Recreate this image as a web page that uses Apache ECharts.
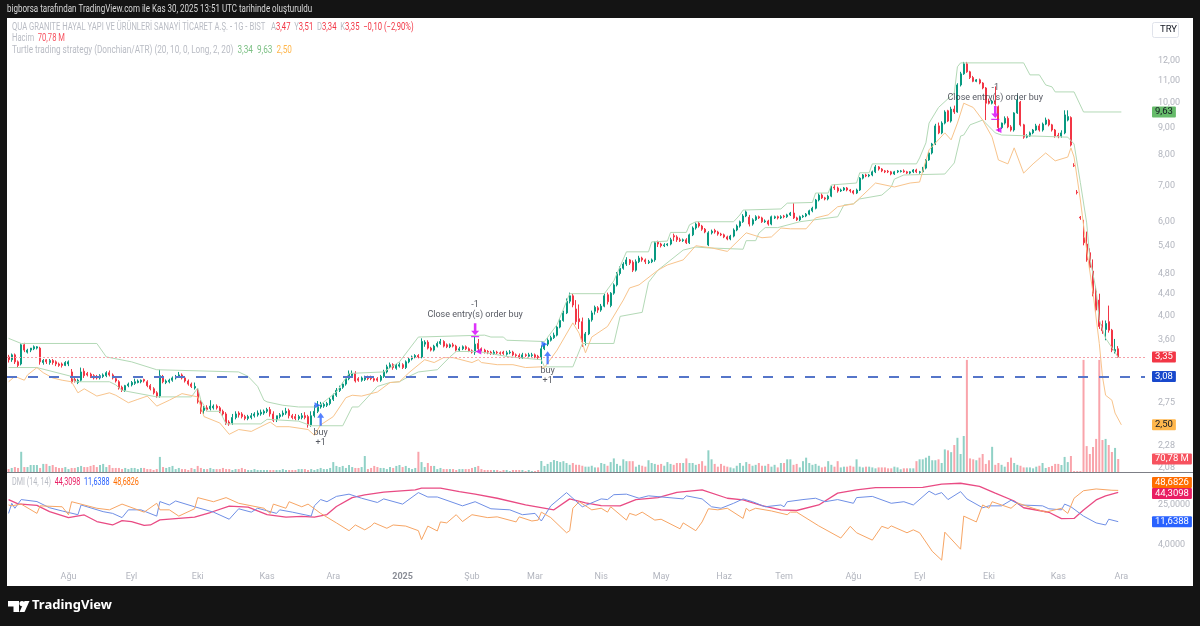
<!DOCTYPE html>
<html>
<head>
<meta charset="utf-8">
<title>QUA</title>
<style>
  html, body { margin: 0; padding: 0; background: #141414; }
  #chart { width: 1200px; height: 626px; }
</style>
<script src="https://cdn.jsdelivr.net/npm/echarts@6/dist/echarts.min.js"></script>
</head>
<body>
<div id="chart"></div>
<script>
// one row = 10 bars
const opens = [
  3.35,3.31,3.38,3.28,3.25,3.53,3.42,3.45,3.47,3.48, 3.48,3.27,3.31,3.27,3.30,3.28,3.25,3.25,3.23,3.25,
  3.14,3.04,3.00,3.03,3.15,3.12,3.11,3.09,3.08,3.06, 3.08,3.09,3.13,3.10,3.05,3.01,2.94,2.90,2.96,2.97,
  2.99,3.00,3.01,3.04,3.01,2.96,2.92,2.87,2.83,3.07, 3.00,3.01,3.03,3.06,3.08,3.10,3.06,3.02,2.98,2.93,
  2.90,2.76,2.66,2.69,2.68,2.69,2.71,2.69,2.65,2.62, 2.53,2.52,2.58,2.63,2.62,2.59,2.57,2.58,2.60,2.61,
  2.62,2.63,2.65,2.67,2.62,2.56,2.59,2.61,2.63,2.66, 2.60,2.59,2.57,2.58,2.60,2.59,2.50,2.60,2.65,2.70,
  2.71,2.72,2.74,2.79,2.84,2.90,2.94,2.98,3.05,3.09, 3.12,3.05,3.03,3.04,3.06,3.07,3.05,3.05,3.03,3.08,
  3.14,3.21,3.24,3.19,3.22,3.24,3.20,3.28,3.32,3.35, 3.37,3.35,3.54,3.57,3.48,3.45,3.51,3.55,3.58,3.53,
  3.50,3.53,3.51,3.45,3.47,3.50,3.47,3.44,3.42,3.55, 3.47,3.45,3.43,3.42,3.40,3.42,3.41,3.42,3.39,3.41,
  3.42,3.38,3.37,3.34,3.38,3.36,3.37,3.38,3.36,3.34, 3.47,3.54,3.60,3.64,3.68,3.81,3.92,4.05,4.26,4.36,
  4.12,3.95,3.90,3.58,3.70,3.93,4.08,4.14,4.10,4.17, 4.38,4.18,4.41,4.57,4.80,4.91,5.00,5.09,5.04,4.87,
  5.05,5.13,5.09,5.03,5.05,5.09,5.50,5.45,5.41,5.43, 5.45,5.65,5.62,5.55,5.53,5.55,5.48,5.67,5.84,5.96,
  5.89,5.81,5.43,5.72,5.78,5.74,5.69,5.67,5.62,5.57, 5.64,5.79,5.89,6.00,6.15,6.12,5.94,6.05,6.13,6.10,
  6.00,6.02,5.94,6.10,6.13,6.10,6.15,6.13,6.18,6.23, 6.10,6.05,6.13,6.15,6.20,6.29,6.36,6.59,6.73,6.65,
  6.62,6.70,6.97,6.94,6.85,6.88,6.94,6.88,6.85,6.79, 6.88,7.24,7.34,7.31,7.34,7.44,7.60,7.53,7.47,7.46,
  7.44,7.37,7.44,7.45,7.47,7.44,7.40,7.44,7.50,7.42, 7.44,7.56,7.83,8.07,8.39,9.07,8.80,9.18,9.68,9.26,
  9.75,9.63,10.82,11.35,11.85,11.45,11.17,10.99,11.06,10.91, 10.68,10.05,10.00,10.09,9.85,9.00,9.18,9.37,9.03,8.91,
  9.59,10.05,9.11,8.64,8.68,8.80,8.91,9.07,8.91,9.14, 9.30,9.11,8.91,8.71,8.68,8.80,9.30,9.40,7.65,6.82,
  6.12,5.60,5.45,5.25,4.85,4.45,4.28,3.85,3.77,3.90, 3.76,3.43,3.47
];
const closes = [
  3.31,3.38,3.28,3.23,3.53,3.45,3.45,3.48,3.50,3.50, 3.28,3.30,3.28,3.30,3.27,3.25,3.23,3.23,3.27,3.28,
  3.01,3.02,3.03,3.14,3.09,3.10,3.08,3.06,3.06,3.09, 3.10,3.13,3.10,3.06,3.02,2.93,2.90,2.96,2.98,3.00,
  3.01,3.02,3.03,3.02,2.96,2.92,2.87,2.83,3.09,3.01, 3.02,3.03,3.06,3.08,3.10,3.06,3.02,2.98,2.95,2.95,
  2.76,2.65,2.69,2.67,2.71,2.71,2.69,2.65,2.62,2.52, 2.51,2.58,2.62,2.61,2.59,2.57,2.59,2.60,2.62,2.63,
  2.64,2.65,2.67,2.62,2.55,2.60,2.61,2.63,2.65,2.60, 2.58,2.57,2.59,2.60,2.58,2.50,2.60,2.65,2.72,2.73,
  2.73,2.74,2.79,2.84,2.90,2.93,2.98,3.05,3.12,3.12, 3.02,3.03,3.06,3.06,3.05,3.05,3.03,3.03,3.08,3.14,
  3.21,3.24,3.20,3.23,3.24,3.20,3.28,3.32,3.35,3.37, 3.35,3.58,3.57,3.48,3.45,3.51,3.55,3.58,3.51,3.50,
  3.53,3.51,3.45,3.47,3.50,3.47,3.44,3.42,3.54,3.47, 3.45,3.42,3.42,3.40,3.42,3.41,3.40,3.40,3.41,3.42,
  3.38,3.37,3.34,3.38,3.37,3.38,3.38,3.35,3.34,3.47, 3.54,3.60,3.64,3.68,3.81,3.92,4.05,4.26,4.36,4.19,
  3.90,3.90,3.58,3.70,3.93,4.05,4.15,4.10,4.17,4.36, 4.25,4.41,4.57,4.80,4.91,5.00,5.09,5.02,4.87,5.05,
  5.13,5.09,5.05,5.05,5.09,5.48,5.45,5.41,5.43,5.45, 5.55,5.62,5.55,5.53,5.55,5.48,5.67,5.84,5.94,5.89,
  5.81,5.74,5.72,5.76,5.74,5.69,5.67,5.62,5.57,5.64, 5.79,5.89,6.00,6.15,6.26,5.94,6.05,6.13,6.10,6.00,
  6.02,5.94,6.13,6.13,6.10,6.13,6.13,6.18,6.23,6.10, 6.05,6.13,6.15,6.20,6.29,6.36,6.59,6.73,6.65,6.62,
  6.70,6.97,6.94,6.85,6.88,6.94,6.88,6.85,6.79,6.88, 7.24,7.34,7.31,7.34,7.44,7.60,7.53,7.47,7.44,7.44,
  7.37,7.44,7.47,7.47,7.44,7.40,7.44,7.50,7.44,7.44, 7.56,7.83,8.07,8.39,9.07,8.80,9.18,9.63,9.26,9.75,
  9.63,10.82,11.35,11.85,11.45,11.17,10.99,11.06,10.91,10.68, 10.00,10.00,10.09,9.97,9.00,9.18,9.37,9.03,8.91,9.59,
  10.14,9.11,8.64,8.68,8.80,8.91,9.07,8.91,9.14,9.30, 9.11,8.91,8.68,8.68,8.80,9.51,9.44,8.35,7.63,6.80,
  6.10,5.48,5.09,4.93,4.40,4.10,3.82,3.75,3.87,3.76, 3.45,3.46,3.35
];
const lows = [
  3.27,3.28,3.25,3.20,3.23,3.42,3.40,3.42,3.45,3.46, 3.24,3.24,3.25,3.24,3.24,3.22,3.21,3.20,3.22,3.22,
  2.99,3.00,2.98,3.01,3.06,3.08,3.06,3.04,3.04,3.04, 3.06,3.07,3.08,3.04,3.00,2.91,2.88,2.88,2.94,2.95,
  2.97,2.99,2.99,3.00,2.94,2.90,2.85,2.81,2.81,2.99, 2.98,2.99,3.01,3.04,3.06,3.04,3.00,2.96,2.93,2.91,
  2.74,2.62,2.62,2.65,2.66,2.67,2.67,2.63,2.60,2.50, 2.49,2.50,2.56,2.58,2.57,2.55,2.55,2.56,2.58,2.59,
  2.60,2.61,2.63,2.59,2.53,2.53,2.57,2.59,2.61,2.57, 2.56,2.55,2.55,2.56,2.56,2.47,2.48,2.58,2.63,2.68,
  2.69,2.70,2.72,2.77,2.82,2.88,2.92,2.96,3.03,3.07, 3.00,3.01,3.01,3.02,3.03,3.03,3.01,3.01,3.01,3.06,
  3.12,3.19,3.17,3.17,3.20,3.18,3.18,3.26,3.30,3.33, 3.33,3.33,3.50,3.46,3.43,3.43,3.49,3.53,3.49,3.48,
  3.48,3.49,3.43,3.43,3.45,3.45,3.42,3.40,3.38,3.44, 3.43,3.40,3.39,3.38,3.38,3.39,3.38,3.38,3.37,3.39,
  3.36,3.35,3.32,3.32,3.35,3.35,3.35,3.33,3.31,3.25, 3.45,3.51,3.58,3.62,3.66,3.79,3.90,4.03,4.22,4.15,
  3.85,3.78,3.50,3.52,3.68,3.90,4.02,4.05,4.07,4.15, 4.20,4.15,4.38,4.54,4.76,4.88,4.96,4.98,4.83,4.84,
  5.02,5.05,5.00,5.00,5.02,5.05,5.38,5.37,5.38,5.40, 5.42,5.52,5.50,5.50,5.50,5.45,5.45,5.64,5.80,5.85,
  5.77,5.71,5.40,5.68,5.70,5.65,5.64,5.59,5.54,5.54, 5.61,5.76,5.85,5.97,6.12,5.88,5.90,6.02,6.07,5.97,
  5.97,5.90,5.91,6.07,6.06,6.07,6.09,6.10,6.15,6.07, 6.02,6.02,6.10,6.12,6.17,6.25,6.33,6.55,6.62,6.58,
  6.58,6.67,6.88,6.80,6.82,6.85,6.84,6.80,6.75,6.76, 6.85,7.20,7.27,7.27,7.30,7.40,7.48,7.43,7.40,7.40,
  7.33,7.34,7.40,7.42,7.41,7.37,7.36,7.40,7.40,7.38, 7.41,7.52,7.80,8.02,8.35,8.75,8.75,9.13,9.22,9.20,
  9.55,9.60,10.75,11.30,11.40,11.10,10.95,10.95,10.85,10.62, 9.30,9.95,9.95,9.90,8.85,8.95,9.12,8.98,8.85,8.85,
  9.55,9.05,8.58,8.60,8.65,8.75,8.88,8.85,8.85,9.10, 9.05,8.85,8.62,8.60,8.62,8.75,9.25,8.30,7.60,6.75,
  6.05,5.42,5.05,4.90,4.35,4.05,3.78,3.70,3.60,3.72, 3.42,3.40,3.34
];
const highs = [
  3.38,3.40,3.40,3.30,3.55,3.56,3.47,3.47,3.52,3.51, 3.50,3.32,3.32,3.32,3.32,3.30,3.27,3.27,3.29,3.30,
  3.18,3.06,3.05,3.20,3.19,3.14,3.13,3.11,3.10,3.11, 3.12,3.15,3.16,3.12,3.07,3.03,2.96,2.97,3.00,3.02,
  3.05,3.04,3.04,3.05,3.03,2.98,2.94,2.89,3.17,3.10, 3.04,3.05,3.08,3.10,3.14,3.12,3.08,3.04,3.00,3.00,
  2.93,2.78,2.71,2.72,2.78,2.73,2.73,2.71,2.67,2.64, 2.55,2.62,2.65,2.65,2.64,2.61,2.61,2.63,2.64,2.66,
  2.67,2.67,2.69,2.70,2.65,2.60,2.63,2.66,2.69,2.68, 2.62,2.62,2.61,2.63,2.64,2.61,2.65,2.72,2.77,2.76,
  2.75,2.76,2.81,2.86,2.93,2.96,3.00,3.08,3.16,3.16, 3.15,3.07,3.08,3.09,3.09,3.09,3.07,3.07,3.10,3.17,
  3.24,3.27,3.26,3.25,3.27,3.26,3.30,3.34,3.37,3.39, 3.39,3.63,3.60,3.60,3.50,3.53,3.58,3.62,3.60,3.55,
  3.55,3.56,3.53,3.50,3.52,3.52,3.49,3.46,3.65,3.62, 3.49,3.47,3.45,3.44,3.45,3.44,3.43,3.44,3.44,3.45,
  3.44,3.40,3.40,3.41,3.40,3.41,3.41,3.40,3.38,3.52, 3.56,3.63,3.67,3.72,3.84,3.95,4.09,4.31,4.42,4.40,
  4.28,4.20,3.97,3.73,3.96,4.09,4.18,4.17,4.21,4.40, 4.42,4.43,4.60,4.83,4.95,5.04,5.15,5.11,5.08,5.10,
  5.18,5.16,5.12,5.09,5.12,5.51,5.53,5.48,5.47,5.47, 5.60,5.70,5.66,5.60,5.58,5.59,5.70,5.88,5.98,6.00,
  5.92,5.84,5.76,5.80,5.82,5.77,5.72,5.70,5.65,5.67, 5.83,5.93,6.03,6.20,6.30,6.18,6.09,6.17,6.16,6.13,
  6.06,6.05,6.16,6.16,6.16,6.17,6.18,6.21,6.26,6.50, 6.13,6.16,6.18,6.23,6.32,6.40,6.62,6.78,6.78,6.68,
  6.74,7.00,7.05,6.98,6.92,6.97,6.97,6.91,6.88,6.92, 7.27,7.37,7.38,7.37,7.48,7.66,7.63,7.56,7.50,7.50,
  7.47,7.47,7.50,7.50,7.52,7.47,7.46,7.53,7.54,7.47, 7.60,7.86,8.11,8.43,9.15,9.20,9.25,9.70,9.72,9.85,
  9.90,10.90,11.45,11.95,11.95,11.50,11.25,11.10,11.12,10.95, 10.72,10.20,10.15,10.75,9.90,9.20,9.45,9.45,9.10,9.62,
  10.35,10.10,9.15,8.75,8.85,8.95,9.15,9.15,9.20,9.40, 9.35,9.15,8.95,8.80,8.90,9.70,9.70,9.45,7.72,6.88,
  6.15,6.05,5.75,5.35,5.10,4.55,4.40,3.92,3.92,4.18, 3.78,3.62,3.51
];
// volume in millions
const volumes = [
  16,22,27,22,110,27,27,38,38,38, 22,44,44,33,38,27,22,22,27,16,
  22,22,27,33,27,27,33,38,27,38, 44,27,38,22,22,22,16,22,16,22,
  22,16,22,22,16,16,11,16,82,27, 22,27,33,16,22,16,16,11,22,16,
  33,22,16,16,22,16,16,16,22,16, 16,11,16,16,22,16,11,11,16,11,
  11,11,11,11,11,11,11,16,11,11, 11,11,16,16,16,11,16,11,16,22,
  16,16,22,54,33,27,33,22,38,27, 22,22,27,87,16,22,33,27,22,22,
  16,27,22,33,38,27,33,22,16,22, 110,54,27,49,33,33,16,22,16,16,
  16,16,11,16,16,16,16,22,27,33, 16,11,11,11,11,11,5,11,11,5,
  11,11,11,11,5,11,5,5,11,60, 33,44,54,65,60,
  54,59,49,39,49,39,39,34,29,29, 34,25,25,49,44,34,54,74,44,34,
  69,59,59,59,29,39,34,29,64,49, 44,39,44,34,54,44,39,49,49,49,
  74,49,49,39,44,59,34,118,69,44, 29,44,34,29,25,20,34,49,34,54,
  44,34,39,49,34,34,44,29,39,25, 49,49,69,69,39,44,25,59,78,49,
  39,44,34,25,29,59,39,29,59,25, 29,29,34,29,69,29,25,29,29,25,
  20,25,25,25,20,20,29,25,15,20, 20,20,20,59,69,69,78,88,64,64,
  69,49,123,118,108,147,186,98,196,610, 74,69,64,78,98,44,64,137,39,49,
  39,29,54,78,49,39,34,25,25,25, 20,29,34,
  49,22,27,33,44,44,38,82,54,87, 5,5,5,610,141,98,136,180,610,174,
  180,147,109,131,70.78
];

// indicator lines as [bar, value], only the corners
const upperChannel = [
  [0,3.63],[4,3.55],[28,3.55],[31,3.35],[39,3.28],[47,3.17],[73,3.14],[76,3.08],[79,2.95],[81,2.78],[82,2.76],
  [87,2.72],[92,2.70],[98,2.70],[104,2.88],[108,3.12],[119,3.14],[124,3.28],[130,3.65],[151,3.68],[153,3.65],
  [157,3.65],[158,3.60],[170,3.58],[174,3.85],[178,4.40],[189,4.40],[192,4.65],[196,5.27],[203,5.27],[204,5.50],
  [209,5.52],[210,5.73],[215,5.73],[216,5.92],[218,6.00],[230,6.00],[232,6.18],[233,6.31],[245,6.34],[247,6.50],
  [255,6.52],[256,6.79],[260,6.79],[261,7.03],[269,7.09],[270,7.41],[273,7.41],[274,7.70],[288,7.70],[289,7.90],
  [291,8.43],[292,9.18],[295,9.82],[300,10.45],[301,11.70],[302,11.90],[322,11.90],[324,11.30],[327,11.30],
  [329,10.82],[331,10.73],[332,10.50],[338,10.50],[341,9.63],[353,9.63]
];
const lowerChannel = [
  [0,3.20],[9,3.20],[20,3.08],[21,3.01],[32,3.01],[34,2.97],[36,2.90],[47,2.82],[58,2.82],[60,2.93],[61,2.78],
  [63,2.65],[67,2.65],[69,2.51],[80,2.51],[82,2.56],[92,2.54],[96,2.49],[106,2.49],[109,2.70],[111,2.70],
  [114,2.82],[117,2.95],[121,3.00],[124,3.01],[127,3.08],[130,3.14],[136,3.17],[140,3.35],[142,3.43],[149,3.43],
  [159,3.35],[169,3.31],[170,3.21],[179,3.21],[182,3.55],[192,3.55],[194,3.99],[201,4.06],[203,4.62],[206,4.87],
  [214,5.31],[218,5.38],[222,5.36],[233,5.33],[234,5.53],[237,5.53],[238,5.71],[240,5.85],[244,5.85],[251,6.00],
  [263,6.13],[265,6.45],[268,6.48],[270,6.62],[277,6.73],[280,6.97],[281,7.21],[284,7.34],[297,7.37],[300,7.73],
  [302,8.68],[303,8.72],[305,9.11],[309,9.30],[313,8.80],[315,8.72],[336,8.64],[338,8.39],[340,7.10],[342,5.97],
  [343,5.13],[345,4.47],[346,3.93],[348,3.63],[351,3.42],[352,3.34]
];
const atrStop = [
  [0,3.01],[2,3.08],[5,3.03],[6,3.10],[9,3.20],[11,3.13],[14,3.06],[17,3.03],[20,3.01],[22,2.87],[24,2.92],
  [28,2.83],[32,2.87],[34,2.84],[38,2.75],[41,2.79],[44,2.83],[47,2.71],[51,2.78],[55,2.86],[60,2.82],[62,2.59],
  [67,2.52],[70,2.40],[73,2.45],[77,2.43],[80,2.48],[83,2.53],[85,2.48],[89,2.48],[95,2.45],[97,2.39],[99,2.50],
  [103,2.59],[107,2.81],[109,2.84],[112,2.83],[117,2.88],[121,3.00],[124,3.01],[127,3.13],[132,3.31],[135,3.27],
  [138,3.34],[141,3.34],[147,3.27],[149,3.31],[150,3.27],[155,3.24],[160,3.24],[164,3.20],[169,3.21],[170,3.20],
  [174,3.45],[179,3.88],[181,3.71],[183,3.41],[185,3.65],[190,3.82],[195,4.28],[197,4.51],[200,4.57],[206,4.87],
  [209,4.98],[214,5.09],[218,5.41],[223,5.36],[228,5.28],[234,5.72],[239,5.60],[242,5.62],[245,5.84],[248,5.82],
  [253,5.82],[256,6.10],[260,6.18],[263,6.40],[268,6.48],[271,6.73],[275,7.09],[281,6.97],[286,7.09],[289,7.12],
  [292,8.18],[297,8.80],[299,8.54],[301,9.18],[303,10.00],[306,9.82],[309,9.30],[312,8.64],[314,7.83],[317,7.70],
  [319,8.25],[322,7.40],[325,7.70],[329,8.07],[332,7.80],[336,7.93],[337,8.25],[338,7.93],[340,6.59],[342,5.31],
  [344,4.42],[346,3.55],[347,3.08],[348,2.84],[350,2.78],[351,2.63],[353,2.50]
];
const adx = [
  [0,32],[3,26.3],[9,24.5],[13,18.4],[19,14],[24,15.8],[28,11.7],[33,10],[36,12.2],[39,11.7],[43,9.8],[45,10],
  [48,12.6],[51,13.1],[59,14.3],[64,17.7],[70,23.7],[76,22.6],[82,16.1],[88,14.3],[93,14.8],[97,14.3],[101,16.1],
  [104,23.3],[109,35],[113,39.7],[119,45],[129,50],[131,53.9],[137,54],[143,46],[148,41],[155,34],[164,25],
  [173,20],[178,33],[183,27.5],[188,24.3],[194,24],[199,32],[206,35],[212,44.5],[220,49.8],[228,34],[233,31.5],
  [239,24.3],[245,19.9],[250,19.4],[257,25],[263,43],[269,50],[275,55.5],[290,56],[296,65],[302,67.5],[308,58.5],
  [313,43],[319,30],[322,22],[330,17.9],[334,13.4],[338,13.5],[341,19.9],[345,31.5],[348,38],[352,44.31]
];
const diPlus = [
  [0,17],[1,27],[2,21.5],[4,32],[9,29.2],[13,22],[17,19],[22,16],[23,25],[30,18.4],[33,17],[36,14],[38,20],[42,20],
  [47,15],[48,29.2],[51,25],[53,30],[59,23],[65,18],[70,13],[73,21],[77,18],[79,21.5],[85,17],[86,20],[90,18],
  [96,15],[97,24],[99,32],[101,29],[104,37],[108,41],[112,34],[117,28],[119,33],[125,26],[130,44],[133,36],[136,36],
  [144,24],[148,29],[153,21],[159,20],[163,16],[167,17],[169,12],[172,24],[177,44],[182,23],[188,33],[190,32],
  [192,40],[196,41],[200,34],[203,38],[214,33],[215,38],[220,33],[223,23],[226,21.5],[230,27],[233,33],[236,29],
  [240,23],[245,25],[246,23],[247,29],[252,32],[256,34],[259,29],[263,32],[268,27],[269,35],[274,37],[280,27],
  [284,29],[287,25],[292,47],[294,40],[296,44],[298,32],[302,46],[304,33],[309,22],[311,24],[315,24],[318,31],
  [321,25],[328,24],[330,21],[334,20],[335,26],[337,23],[341,15],[345,11],[348,10],[349,13],[352,11.64]
];
const diMinus = [
  [0,25],[1,24],[4,26],[9,17],[10,24],[17,23],[19,16],[20,29],[28,21.5],[32,20],[36,26],[43,18],[47,27],[48,20],
  [51,20],[54,15],[59,21],[60,35],[65,29],[69,35],[73,27],[81,21.5],[83,17],[84,26],[88,21.5],[89,29],[93,23],
  [95,26],[99,17],[104,11],[108,7.7],[110,10],[113,8],[115,9.5],[116,11],[120,8.6],[122,10],[126,9.5],[130,7.7],
  [131,5.1],[133,9.5],[136,7.6],[137,11.5],[139,11],[142,16],[144,11.7],[147,16],[152,14],[155,14.5],[161,11.5],
  [162,14.5],[166,12],[168,12.5],[169,18],[172,14],[177,7],[178,7.7],[179,21.5],[181,29],[185,20],[188,21.5],
  [190,18],[191,23],[196,12.5],[197,17],[199,15.5],[201,18],[205,12.5],[207,13],[213,8.4],[214,11],[218,7.7],
  [220,11.5],[222,21],[225,20],[228,21.5],[233,13.5],[234,21.5],[235,19],[237,21.5],[242,19],[247,16],[248,18],
  [250,18],[257,9.6],[264,5.5],[267,9.4],[269,7],[274,5],[277,9.4],[279,8.5],[280,9.6],[285,7],[287,8],[289,7],
  [293,3],[296,2],[297,7.2],[302,3.3],[303,15],[307,11.5],[309,25],[311,21.5],[312,29],[318,21.5],[320,27.5],
  [325,21.5],[329,18],[334,21.5],[336,17],[338,34],[341,48],[345,52],[350,49],[352,48.68]
];

// trade marks as [bar, price]
const buyArrows = [[99,2.56],[171,3.34]];
const sellArrows = [[148,3.76],[313,9.59]];
const entryFlags = [[98,2.72],[170,3.54]];
const exitFlags = [[149,3.43],[314,8.91]];

const priceTicks = [12, 11, 10, 9, 8, 7, 6, 5.4, 4.8, 4.4, 4, 3.6, 2.75, 2.28, 2.08];
const dmiTicks = [25, 4];
const monthBars = [19, 39, 60, 82, 103, 125, 147, 167, 188, 207, 227, 246, 268, 289, 311, 333, 353];
const monthNames = ['Ağu', 'Eyl', 'Eki', 'Kas', 'Ara', '2025', 'Şub', 'Mar', 'Nis', 'May', 'Haz', 'Tem', 'Ağu', 'Eyl', 'Eki', 'Kas', 'Ara'];
const barSlots = Array.from({ length: 361 }, (_, i) => i);

const UP = '#089981', DOWN = '#f23645';
const FONT = 'Roboto, "Noto Sans", sans-serif';
const comma = (v, d) => v.toFixed(d).replace('.', ',');

const candles = opens.map((o, i) => [o, closes[i], lows[i], highs[i]]);
const volumeBars = volumes.map((v, i) => ({
  value: v,
  itemStyle: { color: closes[i] >= opens[i] ? 'rgba(8,153,129,.45)' : 'rgba(242,54,69,.45)' },
}));

// coloured price tag in the scale area, hung on a level of the series
const hiddenLine = { color: 'rgba(0,0,0,0)', width: 1 };
function tag(value, text, bg, color, offset, lineStyle) {
  return {
    yAxis: value,
    lineStyle: lineStyle || hiddenLine,
    label: {
      show: true, position: 'end', formatter: text, distance: 7,
      backgroundColor: bg, color: color || '#fff', fontFamily: FONT, fontSize: 9.5, lineHeight: 10,
      padding: [1, 3, 0, 3], borderRadius: 1, offset: offset || [0, 0],
    },
  };
}
const tags = (...items) => ({ silent: true, symbol: 'none', animation: false, data: items });

const lineSeries = (name, data, color, width, axis, markLine) => ({
  name, type: 'line', data, xAxisIndex: axis, yAxisIndex: axis,
  showSymbol: false, symbol: 'none', silent: true, z: 3,
  lineStyle: { color, width }, markLine,
});

// condensed small print, squeezed like the original's narrow face
const note = (x, y, text, rich, squeeze) => ({
  type: 'text', x, y, z: 10, silent: true, scaleX: squeeze || 0.82,
  style: { text, font: '10px ' + FONT, rich },
});
const run = (fill) => ({ fill, fontSize: 10, fontFamily: FONT });

const chart = echarts.init(document.getElementById('chart'), null, { renderer: 'canvas' });
chart.setOption({
  animation: false,
  backgroundColor: '#141414',
  textStyle: { fontFamily: FONT },
  grid: [
    { left: 7, width: 1138, top: 18, height: 454 },
    { left: 7, width: 1138, top: 352, height: 120 },
    { left: 7, width: 1138, top: 473, height: 92 },
  ],
  xAxis: [0, 1, 2].map((g) => ({
    type: 'category', gridIndex: g, data: barSlots, boundaryGap: true,
    axisLine: { show: false }, axisTick: { show: false }, splitLine: { show: false },
    axisLabel: g < 2 ? { show: false } : {
      color: '#b2b5be', fontSize: 9, fontFamily: FONT, margin: 7, hideOverlap: false,
      interval: (i) => monthBars.includes(i),
      formatter: (v, i) => {
        const name = monthNames[monthBars.indexOf(i)];
        return name === '2025' ? '{b|' + name + '}' : name;
      },
      rich: { b: { color: '#8a8d96', fontWeight: 'bold', fontSize: 9, fontFamily: FONT } },
    },
  })),
  yAxis: [
    {
      type: 'log', gridIndex: 0, position: 'right', min: 2.04, max: 14.44,
      axisLine: { show: false }, axisTick: { show: false }, splitLine: { show: false },
      axisLabel: {
        color: '#b2b5be', fontSize: 9, fontFamily: FONT, margin: 13,
        customValues: priceTicks, formatter: (v) => comma(v, 2),
      },
    },
    { type: 'value', gridIndex: 1, show: false, min: 0, max: 653, splitLine: { show: false } },
    {
      type: 'log', gridIndex: 2, position: 'right', min: 1.6, max: 108,
      axisLine: { show: false }, axisTick: { show: false }, splitLine: { show: false },
      axisLabel: {
        color: '#b2b5be', fontSize: 9, fontFamily: FONT, margin: 13,
        customValues: dmiTicks, formatter: (v) => comma(v, 4),
      },
    },
  ],
  series: [
    {
      name: 'Hacim', type: 'bar', data: volumeBars, xAxisIndex: 1, yAxisIndex: 1,
      barWidth: 2, silent: true, z: 1,
      markLine: tags(tag(70.78, '70,78 M', '#f7525f')),
    },
    {
      name: 'QUA', type: 'candlestick', data: candles, xAxisIndex: 0, yAxisIndex: 0,
      barWidth: 1.5, silent: true, z: 2,
      itemStyle: { color: UP, color0: DOWN, borderColor: UP, borderColor0: DOWN, borderWidth: 1 },
      markLine: tags(
        tag(3.35, '3,35', DOWN, '#fff', null, { color: '#f5a0a8', type: [2, 2], width: 1, cap: 'butt' }),
        tag(3.08, '3,08', '#1848cc', '#fff', null, { color: '#5575c9', type: [10, 11], width: 2 }),
      ),
    },
    lineSeries('Upper', upperChannel, '#b3d9b6', 1, 0, tags(tag(9.63, '9,63', '#66bb6a', '#131722'))),
    lineSeries('Lower', lowerChannel, '#b3d9b6', 1, 0),
    lineSeries('Stop', atrStop, '#f8c48c', 1, 0, tags(tag(2.5, '2,50', '#ffb74d', '#131722'))),
    lineSeries('ADX', adx, '#e94b84', 1.3, 2, tags(tag(44.31, '44,3098', '#e91e63', '#fff', [0, 1]))),
    lineSeries('+DI', diPlus, '#6f8fe6', 1, 2, tags(tag(11.64, '11,6388', '#2962ff'))),
    lineSeries('-DI', diMinus, '#f7a564', 1, 2, tags(tag(48.68, '48,6826', '#ff6d00', '#fff', [0, -8]))),
    {
      name: 'buy', type: 'scatter', data: buyArrows, xAxisIndex: 0, yAxisIndex: 0, silent: true, z: 5,
      symbol: 'path://M5 0L10 6H6.6V16H3.4V6H0Z', symbolSize: [7, 13], itemStyle: { color: '#2962ff' },
      label: { show: true, position: 'bottom', distance: 2, formatter: 'buy\n+1', color: '#2a2e39', fontFamily: FONT, fontSize: 9, lineHeight: 10 },
    },
    {
      name: 'close', type: 'scatter', data: sellArrows, xAxisIndex: 0, yAxisIndex: 0, silent: true, z: 5,
      symbol: 'path://M3.4 0H6.6V10H10L5 16L0 10H3.4ZM0 17H10V18.6H0Z', symbolSize: [8, 14], itemStyle: { color: '#d500f9' },
      label: { show: true, position: 'top', distance: 3, formatter: '-1\nClose entry(s) order buy', color: '#2a2e39', fontFamily: FONT, fontSize: 9, lineHeight: 10 },
    },
    {
      name: 'entry', type: 'scatter', data: entryFlags, xAxisIndex: 0, yAxisIndex: 0, silent: true, z: 5,
      symbol: 'triangle', symbolSize: 6, symbolRotate: -90, itemStyle: { color: '#2962ff' },
    },
    {
      name: 'exit', type: 'scatter', data: exitFlags, xAxisIndex: 0, yAxisIndex: 0, silent: true, z: 5,
      symbol: 'triangle', symbolSize: 6, symbolRotate: 90, itemStyle: { color: '#d500f9' },
    },
  ],
  graphic: [
    { type: 'rect', z: -10, silent: true, shape: { x: 7, y: 18, width: 1186, height: 568 }, style: { fill: '#fff' } },
    { type: 'line', z: 10, silent: true, shape: { x1: 7, y1: 472.5, x2: 1193, y2: 472.5 }, style: { stroke: '#7d7f86', lineWidth: 1 } },
    note(7, 4, '{w|bigborsa tarafından TradingView.com ile Kas 30, 2025 13:51 UTC tarihinde oluşturuldu}', { w: run('#d9d9d9') }, 0.8),
    note(12, 22, '{g|QUA GRANITE HAYAL YAPI VE ÜRÜNLERİ SANAYİ TİCARET A.Ş. - 1G - BIST}   {g|A}{r|3,47}  {g|Y}{r|3,51}  {g|D}{r|3,34}  {g|K}{r|3,35}  {r|−0,10 (−2,90%)}',
      { g: run('#b9bcc4'), r: run('#f23645') }, 0.765),
    note(12, 33, '{g|Hacim}  {r|70,78 M}', { g: run('#b9bcc4'), r: run('#f7525f') }, 0.76),
    note(12, 45, '{g|Turtle trading strategy (Donchian/ATR) (20, 10, 0, Long, 2, 20)}  {v|3,34}  {v|9,63}  {o|2,50}',
      { g: run('#b9bcc4'), v: run('#7cc084'), o: run('#ffb74d') }),
    note(12, 477, '{g|DMI (14, 14)}  {p|44,3098}  {b|11,6388}  {o|48,6826}',
      { g: run('#b9bcc4'), p: run('#e91e63'), b: run('#2962ff'), o: run('#ff6d00') }, 0.72),
    { type: 'rect', z: 10, silent: true, shape: { x: 1152.5, y: 22.5, width: 26, height: 15, r: 2 }, style: { fill: '#fff', stroke: '#e0e3eb', lineWidth: 1 } },
    { type: 'text', x: 1160, y: 25, z: 11, silent: true, style: { text: 'TRY', fill: '#131722', font: '9.5px ' + FONT } },
    // footer logo
    {
      type: 'group', silent: true,
      children: [
        { type: 'polygon', shape: { points: [[8, 601], [19, 601], [19, 612], [13.5, 612], [13.5, 606.5], [8, 606.5]] }, style: { fill: '#fff' } },
        { type: 'circle', shape: { cx: 22, cy: 603.6, r: 2.6 }, style: { fill: '#fff' } },
        { type: 'polygon', shape: { points: [[24.5, 601], [29.5, 601], [24.5, 612], [19.5, 612]] }, style: { fill: '#fff' } },
      ],
    },
    { type: 'text', x: 32, y: 599, silent: true, style: { text: 'TradingView', fill: '#fff', font: 'bold 13px "Noto Sans", sans-serif' } },
  ],
});

window.addEventListener('resize', () => chart.resize());
</script>
</body>
</html>
